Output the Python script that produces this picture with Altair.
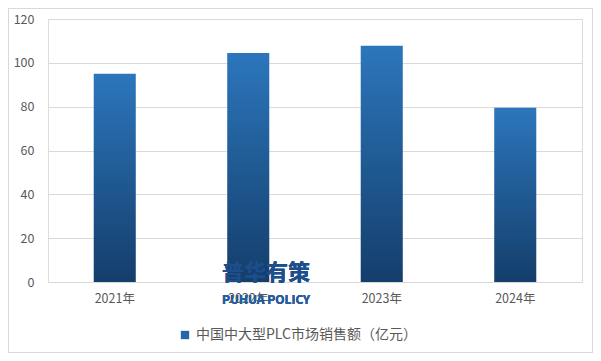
import altair as alt
import pandas as pd

years = ["2021年", "2022年", "2023年", "2024年"]
sales = [95.0, 104.5, 107.8, 79.5]
series_name = "中国中大型PLC市场销售额（亿元）"
y_ticks = [0, 20, 40, 60, 80, 100, 120]

df = pd.DataFrame({"year": years, "value": sales, "series": [series_name] * len(years)})

FONT = "Noto Sans CJK SC"
gradient = alt.LinearGradient(
    gradient="linear",
    x1=0, y1=0, x2=0, y2=1,
    stops=[alt.GradientStop(offset=0, color="#2c76bc"),
           alt.GradientStop(offset=1, color="#143e6b")],
)

x_enc = alt.X("year:N", sort=years, title=None,
              scale=alt.Scale(paddingInner=0.685, paddingOuter=0.3425),
              axis=alt.Axis(labelAngle=0, ticks=False, domain=True, domainColor="#d9d9d9",
                            labelFont=FONT, labelFontSize=12.5, labelColor="#595959",
                            labelPadding=10, grid=False))
y_enc = alt.Y("value:Q", title=None,
              scale=alt.Scale(domain=[0, 120], nice=False),
              axis=alt.Axis(values=y_ticks, ticks=False, domain=False, grid=True,
                            gridColor="#d9d9d9", gridWidth=1,
                            labelFont=FONT, labelFontSize=12.5, labelColor="#595959",
                            labelPadding=14))

bars = alt.Chart(df).mark_bar(fill=gradient).encode(x=x_enc, y=y_enc)

legend_layer = alt.Chart(df).mark_square(opacity=0, size=0).encode(
    x=alt.X("year:N", sort=years),
    y="value:Q",
    color=alt.Color("series:N",
                    scale=alt.Scale(range=["#2566a8"]),
                    legend=alt.Legend(title=None, orient="none", legendX=130, legendY=309,
                                      symbolType="square", symbolSize=70, symbolOpacity=1,
                                      symbolStrokeWidth=0,
                                      labelFont=FONT, labelFontSize=14, labelColor="#595959",
                                      labelLimit=400)),
)

wm1 = alt.Chart(df).mark_text(text="普华有策", font=FONT, fontSize=22, fontWeight="bold",
                              color="#1d4f8c", opacity=0.95).encode(
    x=alt.value(218), y=alt.value(254))
wm2 = alt.Chart(df).mark_text(text="PUHUA POLICY", font=FONT, fontSize=12, fontWeight="bold",
                              color="#2a5d9e", opacity=0.95).encode(
    x=alt.value(218), y=alt.value(281))

frame = alt.Chart(df).mark_rect(fill="transparent", stroke="#d9d9d9", strokeWidth=1).encode(
    x=alt.value(-39.5), x2=alt.value(544.5), y=alt.value(-10.5), y2=alt.value(333.5))

chart = alt.layer(bars, legend_layer, wm1, wm2, frame).properties(
    width=534, height=263,
    autosize=alt.AutoSizeParams(type="none"),
    padding={"left": 40, "top": 11, "right": 11, "bottom": 71},
).configure_view(stroke=None).configure(background="white")

chart.save("out.html", embed_options={"renderer": "svg", "actions": False})
